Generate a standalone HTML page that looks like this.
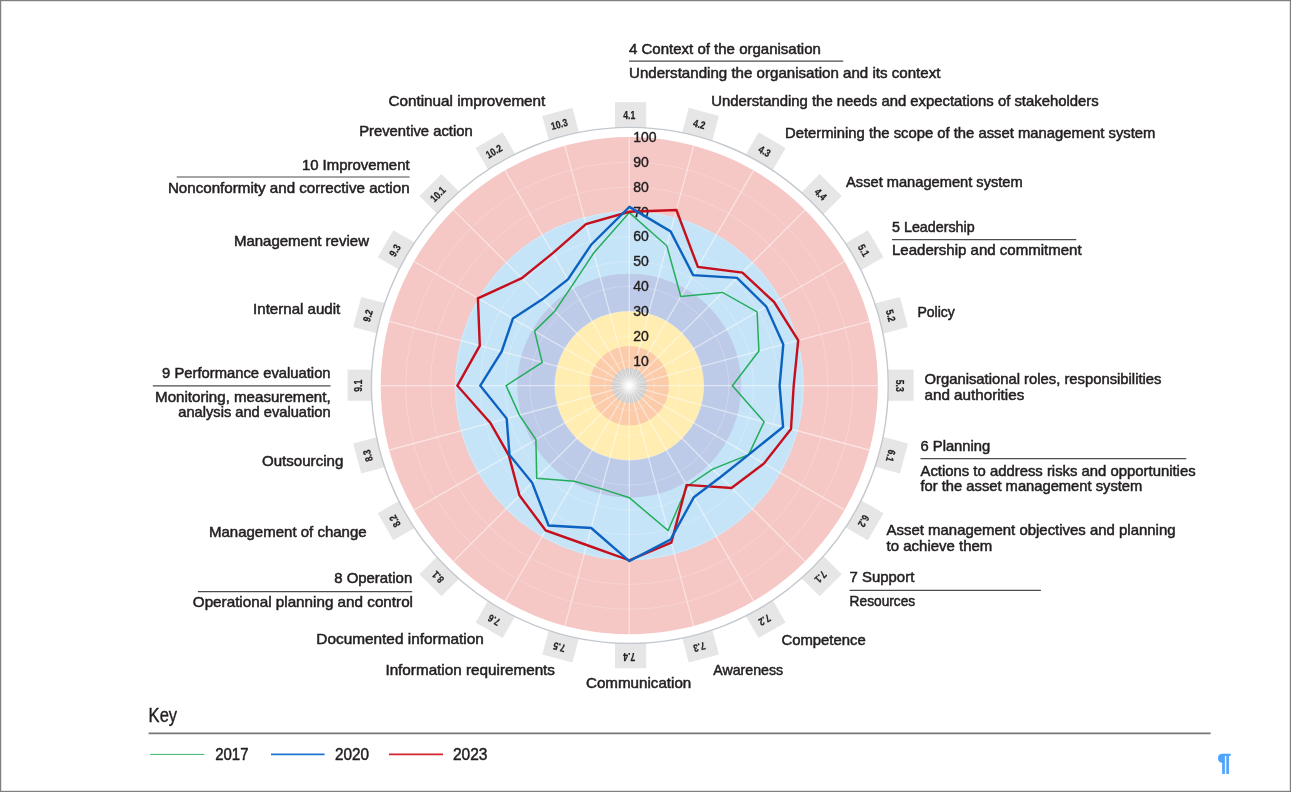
<!DOCTYPE html>
<html lang="en"><head><meta charset="utf-8"><title>Radar chart</title>
<style>html,body{margin:0;padding:0;background:#fff}body{width:1291px;height:792px;overflow:hidden;position:relative}svg{display:block;position:absolute;left:0;top:0}text{font-family:"Liberation Sans",sans-serif;fill:#231f20}.lb{font-size:14.5px;stroke:#231f20;stroke-width:0.5px}.sc{font-size:14px;stroke:#231f20;stroke-width:0.4px}.bx{font-size:10.5px;font-weight:bold;text-anchor:middle;stroke:#231f20;stroke-width:0.25px}.key{font-size:21px;stroke:#231f20;stroke-width:0.4px}.lg{font-size:16.5px;stroke:#231f20;stroke-width:0.5px}</style></head><body>
<svg width="1291" height="792" viewBox="0 0 1291 792">
<rect x="0" y="0" width="1291" height="792" fill="#fff"/>
<g transform="translate(630.6 385.2) rotate(0)"><rect x="-15.6" y="-283" width="31.2" height="27" fill="#e6e6e6"/></g>
<g transform="translate(630.6 385.2) rotate(15)"><rect x="-15.6" y="-283" width="31.2" height="27" fill="#e6e6e6"/></g>
<g transform="translate(630.6 385.2) rotate(30)"><rect x="-15.6" y="-283" width="31.2" height="27" fill="#e6e6e6"/></g>
<g transform="translate(630.6 385.2) rotate(45)"><rect x="-15.6" y="-283" width="31.2" height="27" fill="#e6e6e6"/></g>
<g transform="translate(630.6 385.2) rotate(60)"><rect x="-15.6" y="-283" width="31.2" height="27" fill="#e6e6e6"/></g>
<g transform="translate(630.6 385.2) rotate(75)"><rect x="-15.6" y="-283" width="31.2" height="27" fill="#e6e6e6"/></g>
<g transform="translate(630.6 385.2) rotate(90)"><rect x="-15.6" y="-283" width="31.2" height="27" fill="#e6e6e6"/></g>
<g transform="translate(630.6 385.2) rotate(105)"><rect x="-15.6" y="-283" width="31.2" height="27" fill="#e6e6e6"/></g>
<g transform="translate(630.6 385.2) rotate(120)"><rect x="-15.6" y="-283" width="31.2" height="27" fill="#e6e6e6"/></g>
<g transform="translate(630.6 385.2) rotate(135)"><rect x="-15.6" y="-283" width="31.2" height="27" fill="#e6e6e6"/></g>
<g transform="translate(630.6 385.2) rotate(150)"><rect x="-15.6" y="-283" width="31.2" height="27" fill="#e6e6e6"/></g>
<g transform="translate(630.6 385.2) rotate(165)"><rect x="-15.6" y="-283" width="31.2" height="27" fill="#e6e6e6"/></g>
<g transform="translate(630.6 385.2) rotate(180)"><rect x="-15.6" y="-283" width="31.2" height="27" fill="#e6e6e6"/></g>
<g transform="translate(630.6 385.2) rotate(195)"><rect x="-15.6" y="-283" width="31.2" height="27" fill="#e6e6e6"/></g>
<g transform="translate(630.6 385.2) rotate(210)"><rect x="-15.6" y="-283" width="31.2" height="27" fill="#e6e6e6"/></g>
<g transform="translate(630.6 385.2) rotate(225)"><rect x="-15.6" y="-283" width="31.2" height="27" fill="#e6e6e6"/></g>
<g transform="translate(630.6 385.2) rotate(240)"><rect x="-15.6" y="-283" width="31.2" height="27" fill="#e6e6e6"/></g>
<g transform="translate(630.6 385.2) rotate(255)"><rect x="-15.6" y="-283" width="31.2" height="27" fill="#e6e6e6"/></g>
<g transform="translate(630.6 385.2) rotate(270)"><rect x="-15.6" y="-283" width="31.2" height="27" fill="#e6e6e6"/></g>
<g transform="translate(630.6 385.2) rotate(285)"><rect x="-15.6" y="-283" width="31.2" height="27" fill="#e6e6e6"/></g>
<g transform="translate(630.6 385.2) rotate(300)"><rect x="-15.6" y="-283" width="31.2" height="27" fill="#e6e6e6"/></g>
<g transform="translate(630.6 385.2) rotate(315)"><rect x="-15.6" y="-283" width="31.2" height="27" fill="#e6e6e6"/></g>
<g transform="translate(630.6 385.2) rotate(330)"><rect x="-15.6" y="-283" width="31.2" height="27" fill="#e6e6e6"/></g>
<g transform="translate(630.6 385.2) rotate(345)"><rect x="-15.6" y="-283" width="31.2" height="27" fill="#e6e6e6"/></g>
<ellipse cx="629.8" cy="385.4" rx="258.4" ry="258" fill="#fff" stroke="#c3c9cf" stroke-width="1.4"/>
<circle cx="629.3" cy="385.7" r="248.6" fill="#f5c7c5"/>
<circle cx="629.3" cy="385.7" r="174.6" fill="#c6e4f7"/>
<circle cx="629.3" cy="385.7" r="112.0" fill="#bdcbe9"/>
<circle cx="629.3" cy="385.7" r="74.5" fill="#ffedb1"/>
<circle cx="629.3" cy="385.7" r="39.7" fill="#fbcbaa"/>
<circle cx="629.3" cy="385.7" r="17.4" fill="#c9c9c9"/>
<defs><radialGradient id="cg"><stop offset="0" stop-color="#fff" stop-opacity="1"/><stop offset="0.35" stop-color="#fff" stop-opacity="0.5"/><stop offset="1" stop-color="#fff" stop-opacity="0"/></radialGradient></defs>
<circle cx="629.3" cy="385.7" r="10" fill="url(#cg)"/>
<circle cx="629.3" cy="385.7" r="24.8" fill="none" stroke="#fff" stroke-opacity="0.28" stroke-width="0.8"/>
<circle cx="629.3" cy="385.7" r="49.7" fill="none" stroke="#fff" stroke-opacity="0.28" stroke-width="0.8"/>
<circle cx="629.3" cy="385.7" r="74.5" fill="none" stroke="#fff" stroke-opacity="0.28" stroke-width="0.8"/>
<circle cx="629.3" cy="385.7" r="99.4" fill="none" stroke="#fff" stroke-opacity="0.28" stroke-width="0.8"/>
<circle cx="629.3" cy="385.7" r="124.2" fill="none" stroke="#fff" stroke-opacity="0.28" stroke-width="0.8"/>
<circle cx="629.3" cy="385.7" r="149.0" fill="none" stroke="#fff" stroke-opacity="0.28" stroke-width="0.8"/>
<circle cx="629.3" cy="385.7" r="173.9" fill="none" stroke="#fff" stroke-opacity="0.28" stroke-width="0.8"/>
<circle cx="629.3" cy="385.7" r="198.7" fill="none" stroke="#fff" stroke-opacity="0.28" stroke-width="0.8"/>
<circle cx="629.3" cy="385.7" r="223.6" fill="none" stroke="#fff" stroke-opacity="0.28" stroke-width="0.8"/>
<line x1="629.3" y1="385.7" x2="629.3" y2="137.3" stroke="#fff" stroke-opacity="0.5" stroke-width="1.3"/>
<line x1="629.3" y1="385.7" x2="693.6" y2="145.8" stroke="#fff" stroke-opacity="0.5" stroke-width="1.3"/>
<line x1="629.3" y1="385.7" x2="753.5" y2="170.6" stroke="#fff" stroke-opacity="0.5" stroke-width="1.3"/>
<line x1="629.3" y1="385.7" x2="804.9" y2="210.1" stroke="#fff" stroke-opacity="0.5" stroke-width="1.3"/>
<line x1="629.3" y1="385.7" x2="844.4" y2="261.5" stroke="#fff" stroke-opacity="0.5" stroke-width="1.3"/>
<line x1="629.3" y1="385.7" x2="869.2" y2="321.4" stroke="#fff" stroke-opacity="0.5" stroke-width="1.3"/>
<line x1="629.3" y1="385.7" x2="877.7" y2="385.7" stroke="#fff" stroke-opacity="0.5" stroke-width="1.3"/>
<line x1="629.3" y1="385.7" x2="869.2" y2="450.0" stroke="#fff" stroke-opacity="0.5" stroke-width="1.3"/>
<line x1="629.3" y1="385.7" x2="844.4" y2="509.9" stroke="#fff" stroke-opacity="0.5" stroke-width="1.3"/>
<line x1="629.3" y1="385.7" x2="804.9" y2="561.3" stroke="#fff" stroke-opacity="0.5" stroke-width="1.3"/>
<line x1="629.3" y1="385.7" x2="753.5" y2="600.8" stroke="#fff" stroke-opacity="0.5" stroke-width="1.3"/>
<line x1="629.3" y1="385.7" x2="693.6" y2="625.6" stroke="#fff" stroke-opacity="0.5" stroke-width="1.3"/>
<line x1="629.3" y1="385.7" x2="629.3" y2="634.1" stroke="#fff" stroke-opacity="0.5" stroke-width="1.3"/>
<line x1="629.3" y1="385.7" x2="565.0" y2="625.6" stroke="#fff" stroke-opacity="0.5" stroke-width="1.3"/>
<line x1="629.3" y1="385.7" x2="505.1" y2="600.8" stroke="#fff" stroke-opacity="0.5" stroke-width="1.3"/>
<line x1="629.3" y1="385.7" x2="453.7" y2="561.3" stroke="#fff" stroke-opacity="0.5" stroke-width="1.3"/>
<line x1="629.3" y1="385.7" x2="414.2" y2="509.9" stroke="#fff" stroke-opacity="0.5" stroke-width="1.3"/>
<line x1="629.3" y1="385.7" x2="389.4" y2="450.0" stroke="#fff" stroke-opacity="0.5" stroke-width="1.3"/>
<line x1="629.3" y1="385.7" x2="380.9" y2="385.7" stroke="#fff" stroke-opacity="0.5" stroke-width="1.3"/>
<line x1="629.3" y1="385.7" x2="389.4" y2="321.4" stroke="#fff" stroke-opacity="0.5" stroke-width="1.3"/>
<line x1="629.3" y1="385.7" x2="414.2" y2="261.5" stroke="#fff" stroke-opacity="0.5" stroke-width="1.3"/>
<line x1="629.3" y1="385.7" x2="453.7" y2="210.1" stroke="#fff" stroke-opacity="0.5" stroke-width="1.3"/>
<line x1="629.3" y1="385.7" x2="505.1" y2="170.6" stroke="#fff" stroke-opacity="0.5" stroke-width="1.3"/>
<line x1="629.3" y1="385.7" x2="565.0" y2="145.8" stroke="#fff" stroke-opacity="0.5" stroke-width="1.3"/>
<line x1="629.3" y1="385.7" x2="631.5" y2="368.8" stroke="#fff" stroke-opacity="0.4" stroke-width="0.8"/>
<line x1="629.3" y1="385.7" x2="635.8" y2="370.0" stroke="#fff" stroke-opacity="0.4" stroke-width="0.8"/>
<line x1="629.3" y1="385.7" x2="639.6" y2="372.2" stroke="#fff" stroke-opacity="0.4" stroke-width="0.8"/>
<line x1="629.3" y1="385.7" x2="642.8" y2="375.4" stroke="#fff" stroke-opacity="0.4" stroke-width="0.8"/>
<line x1="629.3" y1="385.7" x2="645.0" y2="379.2" stroke="#fff" stroke-opacity="0.4" stroke-width="0.8"/>
<line x1="629.3" y1="385.7" x2="646.2" y2="383.5" stroke="#fff" stroke-opacity="0.4" stroke-width="0.8"/>
<line x1="629.3" y1="385.7" x2="646.2" y2="387.9" stroke="#fff" stroke-opacity="0.4" stroke-width="0.8"/>
<line x1="629.3" y1="385.7" x2="645.0" y2="392.2" stroke="#fff" stroke-opacity="0.4" stroke-width="0.8"/>
<line x1="629.3" y1="385.7" x2="642.8" y2="396.0" stroke="#fff" stroke-opacity="0.4" stroke-width="0.8"/>
<line x1="629.3" y1="385.7" x2="639.6" y2="399.2" stroke="#fff" stroke-opacity="0.4" stroke-width="0.8"/>
<line x1="629.3" y1="385.7" x2="635.8" y2="401.4" stroke="#fff" stroke-opacity="0.4" stroke-width="0.8"/>
<line x1="629.3" y1="385.7" x2="631.5" y2="402.6" stroke="#fff" stroke-opacity="0.4" stroke-width="0.8"/>
<line x1="629.3" y1="385.7" x2="627.1" y2="402.6" stroke="#fff" stroke-opacity="0.4" stroke-width="0.8"/>
<line x1="629.3" y1="385.7" x2="622.8" y2="401.4" stroke="#fff" stroke-opacity="0.4" stroke-width="0.8"/>
<line x1="629.3" y1="385.7" x2="619.0" y2="399.2" stroke="#fff" stroke-opacity="0.4" stroke-width="0.8"/>
<line x1="629.3" y1="385.7" x2="615.8" y2="396.0" stroke="#fff" stroke-opacity="0.4" stroke-width="0.8"/>
<line x1="629.3" y1="385.7" x2="613.6" y2="392.2" stroke="#fff" stroke-opacity="0.4" stroke-width="0.8"/>
<line x1="629.3" y1="385.7" x2="612.4" y2="387.9" stroke="#fff" stroke-opacity="0.4" stroke-width="0.8"/>
<line x1="629.3" y1="385.7" x2="612.4" y2="383.5" stroke="#fff" stroke-opacity="0.4" stroke-width="0.8"/>
<line x1="629.3" y1="385.7" x2="613.6" y2="379.2" stroke="#fff" stroke-opacity="0.4" stroke-width="0.8"/>
<line x1="629.3" y1="385.7" x2="615.8" y2="375.4" stroke="#fff" stroke-opacity="0.4" stroke-width="0.8"/>
<line x1="629.3" y1="385.7" x2="619.0" y2="372.2" stroke="#fff" stroke-opacity="0.4" stroke-width="0.8"/>
<line x1="629.3" y1="385.7" x2="622.8" y2="370.0" stroke="#fff" stroke-opacity="0.4" stroke-width="0.8"/>
<line x1="629.3" y1="385.7" x2="627.1" y2="368.8" stroke="#fff" stroke-opacity="0.4" stroke-width="0.8"/>
<text class="sc" x="633.3" y="365.6">10</text>
<text class="sc" x="633.3" y="340.7">20</text>
<text class="sc" x="633.3" y="315.9">30</text>
<text class="sc" x="633.3" y="291.0">40</text>
<text class="sc" x="633.3" y="266.2">50</text>
<text class="sc" x="633.3" y="241.4">60</text>
<text class="sc" x="633.3" y="216.5">70</text>
<text class="sc" x="633.3" y="191.7">80</text>
<text class="sc" x="633.3" y="166.8">90</text>
<text class="sc" x="633.3" y="142.0">100</text>
<polygon points="629.3,212.6 666.8,245.8 680.8,296.4 722.6,292.4 757.1,311.9 758.9,351.0 732.4,385.7 764.1,421.8 748.7,454.6 712.7,469.1 687.3,486.2 668.1,530.6 629.3,497.7 601.7,488.9 574.2,481.2 536.7,478.3 535.9,439.6 519.4,415.1 506.1,385.7 542.2,362.4 534.6,331.1 554.8,311.2 571.8,286.1 593.7,253.0" fill="none" stroke="#23ad5a" stroke-width="1.5" stroke-linejoin="miter"/>
<polygon points="629.3,211.8 676.4,210.1 697.9,267.0 742.4,272.6 774.1,302.1 798.2,340.4 793.7,385.7 791.0,429.0 764.0,463.4 731.5,487.9 686.6,484.9 671.3,542.6 629.3,560.3 586.6,545.0 545.7,530.5 519.5,495.5 508.8,455.3 490.4,422.9 457.4,385.7 479.8,345.6 477.9,298.3 521.8,278.2 552.8,253.2 586.0,224.0" fill="none" stroke="#c60f1c" stroke-width="2.4" stroke-linejoin="miter"/>
<polygon points="629.3,206.9 670.6,231.4 693.1,275.1 737.1,277.9 766.3,306.6 783.3,344.4 779.6,385.7 783.1,426.9 748.7,454.6 720.6,477.0 693.8,497.3 670.5,539.5 629.3,561.1 591.2,528.0 548.6,525.5 532.2,482.8 509.5,454.9 506.7,418.6 480.3,385.7 501.7,351.5 512.9,318.5 542.7,299.1 567.9,279.4 591.4,244.4" fill="none" stroke="#0c62c0" stroke-width="2.4" stroke-linejoin="miter"/>
<text class="bx" transform="translate(629.3 385.7) rotate(0)" x="0" y="-267" textLength="12" lengthAdjust="spacingAndGlyphs">4.1</text>
<text class="bx" transform="translate(629.3 385.7) rotate(15)" x="0" y="-267" textLength="12" lengthAdjust="spacingAndGlyphs">4.2</text>
<text class="bx" transform="translate(629.3 385.7) rotate(30)" x="0" y="-267" textLength="12" lengthAdjust="spacingAndGlyphs">4.3</text>
<text class="bx" transform="translate(629.3 385.7) rotate(45)" x="0" y="-267" textLength="12" lengthAdjust="spacingAndGlyphs">4.4</text>
<text class="bx" transform="translate(629.3 385.7) rotate(60)" x="0" y="-267" textLength="12" lengthAdjust="spacingAndGlyphs">5.1</text>
<text class="bx" transform="translate(629.3 385.7) rotate(75)" x="0" y="-267" textLength="12" lengthAdjust="spacingAndGlyphs">5.2</text>
<text class="bx" transform="translate(629.3 385.7) rotate(90)" x="0" y="-267" textLength="12" lengthAdjust="spacingAndGlyphs">5.3</text>
<text class="bx" transform="translate(629.3 385.7) rotate(105)" x="0" y="-267" textLength="12" lengthAdjust="spacingAndGlyphs">6.1</text>
<text class="bx" transform="translate(629.3 385.7) rotate(120)" x="0" y="-267" textLength="12" lengthAdjust="spacingAndGlyphs">6.2</text>
<text class="bx" transform="translate(629.3 385.7) rotate(135)" x="0" y="-267" textLength="12" lengthAdjust="spacingAndGlyphs">7.1</text>
<text class="bx" transform="translate(629.3 385.7) rotate(150)" x="0" y="-267" textLength="12" lengthAdjust="spacingAndGlyphs">7.2</text>
<text class="bx" transform="translate(629.3 385.7) rotate(165)" x="0" y="-267" textLength="12" lengthAdjust="spacingAndGlyphs">7.3</text>
<text class="bx" transform="translate(629.3 385.7) rotate(180)" x="0" y="-267" textLength="12" lengthAdjust="spacingAndGlyphs">7.4</text>
<text class="bx" transform="translate(629.3 385.7) rotate(195)" x="0" y="-267" textLength="12" lengthAdjust="spacingAndGlyphs">7.5</text>
<text class="bx" transform="translate(629.3 385.7) rotate(210)" x="0" y="-267" textLength="12" lengthAdjust="spacingAndGlyphs">7.6</text>
<text class="bx" transform="translate(629.3 385.7) rotate(225)" x="0" y="-267" textLength="12" lengthAdjust="spacingAndGlyphs">8.1</text>
<text class="bx" transform="translate(629.3 385.7) rotate(240)" x="0" y="-267" textLength="12" lengthAdjust="spacingAndGlyphs">8.2</text>
<text class="bx" transform="translate(629.3 385.7) rotate(255)" x="0" y="-267" textLength="12" lengthAdjust="spacingAndGlyphs">8.3</text>
<text class="bx" transform="translate(629.3 385.7) rotate(270)" x="0" y="-267" textLength="12" lengthAdjust="spacingAndGlyphs">9.1</text>
<text class="bx" transform="translate(629.3 385.7) rotate(285)" x="0" y="-267" textLength="12" lengthAdjust="spacingAndGlyphs">9.2</text>
<text class="bx" transform="translate(629.3 385.7) rotate(300)" x="0" y="-267" textLength="12" lengthAdjust="spacingAndGlyphs">9.3</text>
<text class="bx" transform="translate(629.3 385.7) rotate(315)" x="0" y="-267" textLength="16.8" lengthAdjust="spacingAndGlyphs">10.1</text>
<text class="bx" transform="translate(629.3 385.7) rotate(330)" x="0" y="-267" textLength="16.8" lengthAdjust="spacingAndGlyphs">10.2</text>
<text class="bx" transform="translate(629.3 385.7) rotate(345)" x="0" y="-267" textLength="16.8" lengthAdjust="spacingAndGlyphs">10.3</text>
<text class="lb" x="629.0" y="54.3" textLength="191.9" lengthAdjust="spacingAndGlyphs">4 Context of the organisation</text>
<text class="lb" x="629.0" y="78.2" textLength="311.4" lengthAdjust="spacingAndGlyphs">Understanding the organisation and its context</text>
<text class="lb" x="711.2" y="106.3" textLength="387.5" lengthAdjust="spacingAndGlyphs">Understanding the needs and expectations of stakeholders</text>
<text class="lb" x="785.0" y="137.6" textLength="370.4" lengthAdjust="spacingAndGlyphs">Determining the scope of the asset management system</text>
<text class="lb" x="846.1" y="187.0" textLength="176.6" lengthAdjust="spacingAndGlyphs">Asset management system</text>
<text class="lb" x="892.0" y="231.5" textLength="82.7" lengthAdjust="spacingAndGlyphs">5 Leadership</text>
<text class="lb" x="892.0" y="255.4" textLength="189.6" lengthAdjust="spacingAndGlyphs">Leadership and commitment</text>
<text class="lb" x="917.4" y="316.5" textLength="37.5" lengthAdjust="spacingAndGlyphs">Policy</text>
<text class="lb" x="924.5" y="384.2" textLength="237.0" lengthAdjust="spacingAndGlyphs">Organisational roles, responsibilities</text>
<text class="lb" x="924.5" y="400.3" textLength="99.8" lengthAdjust="spacingAndGlyphs">and authorities</text>
<text class="lb" x="920.5" y="450.8" textLength="69.7" lengthAdjust="spacingAndGlyphs">6 Planning</text>
<text class="lb" x="920.5" y="475.6" textLength="275.1" lengthAdjust="spacingAndGlyphs">Actions to address risks and opportunities</text>
<text class="lb" x="920.5" y="491.1" textLength="221.8" lengthAdjust="spacingAndGlyphs">for the asset management system</text>
<text class="lb" x="886.6" y="535.4" textLength="288.9" lengthAdjust="spacingAndGlyphs">Asset management objectives and planning</text>
<text class="lb" x="886.6" y="551.1" textLength="105.7" lengthAdjust="spacingAndGlyphs">to achieve them</text>
<text class="lb" x="849.6" y="581.8" textLength="64.7" lengthAdjust="spacingAndGlyphs">7 Support</text>
<text class="lb" x="849.6" y="605.7" textLength="65.6" lengthAdjust="spacingAndGlyphs">Resources</text>
<text class="lb" x="781.4" y="644.9" textLength="84.4" lengthAdjust="spacingAndGlyphs">Competence</text>
<text class="lb" x="713.2" y="674.7" textLength="69.9" lengthAdjust="spacingAndGlyphs">Awareness</text>
<text class="lb" x="586.0" y="688.3" textLength="105.3" lengthAdjust="spacingAndGlyphs">Communication</text>
<text class="lb" x="385.4" y="674.7" textLength="169.6" lengthAdjust="spacingAndGlyphs">Information requirements</text>
<text class="lb" x="316.3" y="644.0" textLength="167.5" lengthAdjust="spacingAndGlyphs">Documented information</text>
<text class="lb" x="334.2" y="583.1" textLength="78.0" lengthAdjust="spacingAndGlyphs">8 Operation</text>
<text class="lb" x="192.8" y="607.4" textLength="220.2" lengthAdjust="spacingAndGlyphs">Operational planning and control</text>
<text class="lb" x="209.0" y="537.1" textLength="157.6" lengthAdjust="spacingAndGlyphs">Management of change</text>
<text class="lb" x="262.0" y="466.0" textLength="81.3" lengthAdjust="spacingAndGlyphs">Outsourcing</text>
<text class="lb" x="162.1" y="377.6" textLength="168.5" lengthAdjust="spacingAndGlyphs">9 Performance evaluation</text>
<text class="lb" x="155.1" y="401.6" textLength="175.5" lengthAdjust="spacingAndGlyphs">Monitoring, measurement,</text>
<text class="lb" x="178.3" y="416.5" textLength="152.3" lengthAdjust="spacingAndGlyphs">analysis and evaluation</text>
<text class="lb" x="253.1" y="313.6" textLength="87.2" lengthAdjust="spacingAndGlyphs">Internal audit</text>
<text class="lb" x="233.9" y="245.9" textLength="135.1" lengthAdjust="spacingAndGlyphs">Management review</text>
<text class="lb" x="301.9" y="169.5" textLength="107.7" lengthAdjust="spacingAndGlyphs">10 Improvement</text>
<text class="lb" x="167.9" y="193.2" textLength="241.7" lengthAdjust="spacingAndGlyphs">Nonconformity and corrective action</text>
<text class="lb" x="359.2" y="136.0" textLength="113.5" lengthAdjust="spacingAndGlyphs">Preventive action</text>
<text class="lb" x="388.5" y="106.0" textLength="156.8" lengthAdjust="spacingAndGlyphs">Continual improvement</text>
<line x1="629.0" y1="61.2" x2="843.2" y2="61.2" stroke="#4d4d4d" stroke-width="1.2"/>
<line x1="892.0" y1="239.7" x2="1076.3" y2="239.7" stroke="#4d4d4d" stroke-width="1.2"/>
<line x1="920.5" y1="458.6" x2="1186.3" y2="458.6" stroke="#4d4d4d" stroke-width="1.2"/>
<line x1="849.6" y1="590.3" x2="1040.9" y2="590.3" stroke="#4d4d4d" stroke-width="1.2"/>
<line x1="197.9" y1="591.6" x2="412.2" y2="591.6" stroke="#4d4d4d" stroke-width="1.2"/>
<line x1="152.8" y1="385.8" x2="330.6" y2="385.8" stroke="#4d4d4d" stroke-width="1.2"/>
<line x1="176.7" y1="177.0" x2="409.6" y2="177.0" stroke="#4d4d4d" stroke-width="1.2"/>
<text class="key" x="148.6" y="722.2" textLength="28.5" lengthAdjust="spacingAndGlyphs">Key</text>
<line x1="148.6" y1="733.4" x2="1210.6" y2="733.4" stroke="#777" stroke-width="1.8"/>
<line x1="150" y1="754.4" x2="204.3" y2="754.4" stroke="#3bb56c" stroke-width="1"/>
<text class="lg" x="215.2" y="759.6" textLength="33.3" lengthAdjust="spacingAndGlyphs">2017</text>
<line x1="271" y1="754.4" x2="324.6" y2="754.4" stroke="#1f74d0" stroke-width="1.6"/>
<text class="lg" x="335" y="759.6" textLength="34" lengthAdjust="spacingAndGlyphs">2020</text>
<line x1="389" y1="754.4" x2="443" y2="754.4" stroke="#d4252f" stroke-width="1.6"/>
<text class="lg" x="453" y="759.6" textLength="34.5" lengthAdjust="spacingAndGlyphs">2023</text>
<text x="1217.5" y="771" style="font-size:24px;fill:#4da3ff;font-weight:bold;stroke:#4da3ff;stroke-width:0.7px" textLength="13.5" lengthAdjust="spacingAndGlyphs">¶</text>
<rect x="0.5" y="0.5" width="1290" height="791" fill="none" stroke="#7f7f7f" stroke-width="1.4"/>
</svg></body></html>
